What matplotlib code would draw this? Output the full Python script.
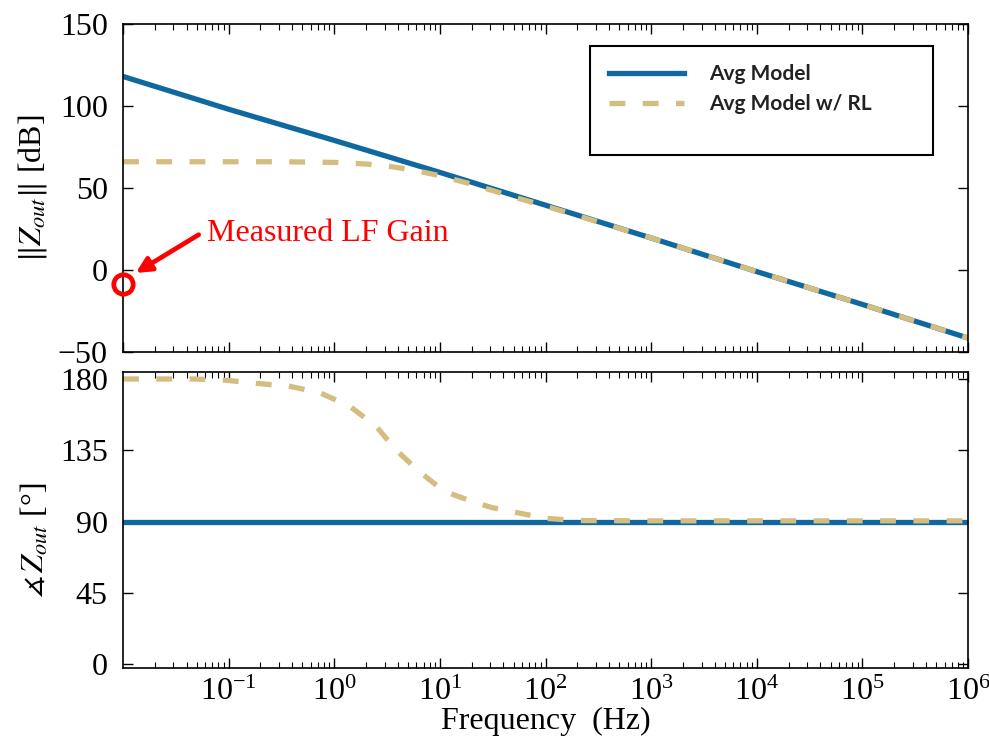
import numpy as np
import matplotlib.pyplot as plt
from matplotlib.patches import Rectangle
from matplotlib.ticker import LogLocator, NullFormatter

plt.rcParams['font.family'] = ['Liberation Serif', 'DejaVu Serif']
plt.rcParams['mathtext.fontset'] = 'stix'

# Значения
freq_avg = [1e-2, 1e-1, 1e0, 1e1, 1e2, 1e3, 1e4, 1e5, 1e6]
mag_avg = [118, 98, 79, 59.5, 39.5, 19.5, -1, -21, -41.5]
phase_avg = [90, 90, 90, 90, 90, 90, 90, 90, 90]

freq_rl_mag = [1e-2, 0.3, 1, 2, 3.5, 6, 10, 20, 50, 100, 1e3, 1e4, 1e5, 1e6]
mag_rl = [66, 66, 65.6, 64.6, 63, 60.5, 57.5, 52.3, 44.5, 39, 19.5, -1, -21, -41.5]

freq_rl_ph = [1e-2, 0.046, 0.095, 0.2, 0.37, 0.72, 1.4, 2.5, 3.8, 6.3, 11, 21.6, 31,
              100, 200, 1e3, 1e6]
phase_rl = [180, 180, 179.2, 177, 175.5, 171.5, 162.8, 150, 135.5, 121.8, 109, 102, 98.8,
            92, 90.6, 90.4, 90.4]

meas_freq = 1e-2
meas_gain = -8.5

blue = '#0f68a0'
tan = '#d4bd80'

fig = plt.figure(figsize=(9.89, 7.54), dpi=100)
ax1 = fig.add_axes([0.1244, 0.5332, 0.8544, 0.4350])
ax2 = fig.add_axes([0.1244, 0.1141, 0.8544, 0.3925])

for ax in (ax1, ax2):
    ax.set_xscale('log')
    ax.set_xlim(1e-2, 1e6)
    ax.xaxis.set_major_locator(LogLocator(base=10, numticks=20))
    ax.xaxis.set_minor_locator(LogLocator(base=10, subs=np.arange(2, 10), numticks=20))
    ax.xaxis.set_minor_formatter(NullFormatter())
    ax.tick_params(which='both', direction='in', top=True, right=True, labelsize=23)
    ax.tick_params(which='major', length=7, width=1)
    ax.tick_params(which='minor', length=4, width=0.8)
    ax.tick_params(axis='y', pad=11)
    for s in ax.spines.values():
        s.set_linewidth(1.2)

# Амплитуда
ax1.plot(freq_avg, mag_avg, color=blue, lw=3.8, label='Avg Model')
ax1.plot(freq_rl_mag, mag_rl, color=tan, lw=3.8, dashes=(3.0, 3.3), label='Avg Model w/ RL')
ax1.set_ylim(-50, 150)
ax1.set_yticks([-50, 0, 50, 100, 150])
ax1.tick_params(axis='x', labelbottom=False)
ax1.set_ylabel(r'$\|Z_{out}\|$ [dB]', fontsize=23, labelpad=6)

ax1.plot([meas_freq], [meas_gain], 'o', ms=14, mfc='none', mec='red', mew=3.4,
         clip_on=False, zorder=5)
ax1.annotate('', xy=(0.0132, -1.8), xytext=(0.052, 21.5),
             arrowprops=dict(arrowstyle='-|>,head_length=0.9,head_width=0.45',
                             color='red', lw=3.4, shrinkA=0, shrinkB=0))
ax1.text(0.062, 22.5, 'Measured LF Gain', color='red', fontsize=23, va='center', ha='left')

leg = ax1.legend(loc='upper left', bbox_to_anchor=(0.553, 0.935), frameon=False,
                 prop={'family': 'Lato', 'weight': 'bold', 'size': 15},
                 handlelength=3.6, handletextpad=1.2, labelspacing=0.5)
for t in leg.get_texts():
    t.set_color('#222222')
ax1.add_patch(Rectangle((0.553, 0.601), 0.406, 0.332, transform=ax1.transAxes,
                        fill=False, ec='black', lw=1.5, zorder=6))

# Фаза
ax2.plot(freq_avg, phase_avg, color=blue, lw=3.8)
ax2.plot(freq_rl_ph, phase_rl, color=tan, lw=3.8, dashes=(3.0, 3.3))
ax2.set_ylim(-2.5, 184.4)
ax2.set_yticks([0, 45, 90, 135, 180])
ax2.set_xticks([1e-1, 1e0, 1e1, 1e2, 1e3, 1e4, 1e5, 1e6])
ax2.tick_params(axis='x', pad=7)
ax2.set_ylabel(r'$\measuredangle\, Z_{out}$ [°]', fontsize=23, labelpad=6)
ax2.yaxis.set_label_coords(-0.085, 0.43)
ax2.set_xlabel('Frequency  (Hz)', fontsize=23, labelpad=0)

fig.savefig('out.png', dpi=100)
